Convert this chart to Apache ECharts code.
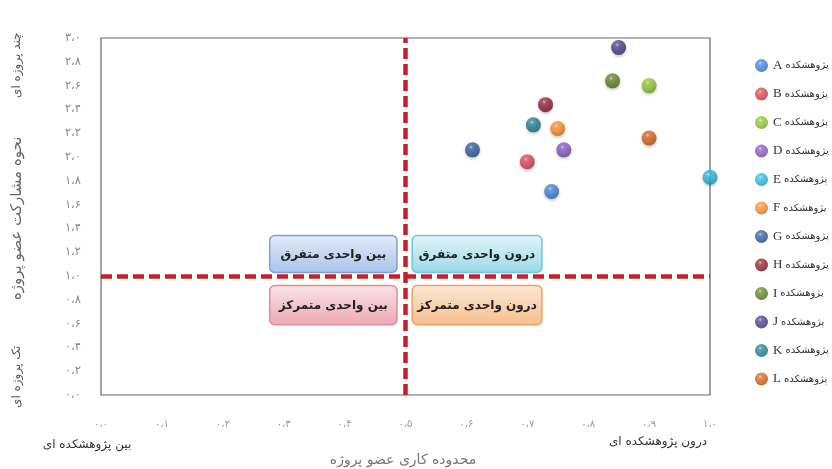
<!DOCTYPE html>
<html><head><meta charset="utf-8">
<script src="https://cdn.jsdelivr.net/npm/echarts@6/dist/echarts.min.js"></script>
<style>html,body{margin:0;padding:0;background:#fff}#c{width:832px;height:469px}</style>
</head><body><div id="c"></div>
<script>
// ---- data ----
const units = ['A','B','C','D','E','F','G','H','I','J','K','L'];
const scopeX = [0.74,0.70,0.90,0.76,1.00,0.75,0.61,0.73,0.84,0.85,0.71,0.90];
const projectsY = [1.71,1.96,2.60,2.06,1.83,2.24,2.06,2.44,2.64,2.92,2.27,2.16];
const xTicks = [0,0.1,0.2,0.3,0.4,0.5,0.6,0.7,0.8,0.9,1.0];
const yTicks = [0,0.2,0.4,0.6,0.8,1.0,1.2,1.4,1.6,1.8,2.0,2.2,2.4,2.6,2.8,3.0];
const quadrantNames = ['بین واحدی متفرق','درون واحدی متفرق','بین واحدی متمرکز','درون واحدی متمرکز'];
const quadrantX0 = [0.277,0.511,0.277,0.511];
const quadrantX1 = [0.486,0.724,0.486,0.724];
const quadrantY0 = [1.03,1.03,0.59,0.59];
const quadrantY1 = [1.34,1.34,0.92,0.92];
const splitX = 0.5, splitY = 1.0;

// ---- styles ----
const colors = ['#3a7fd4','#d8404a','#8cc22e','#8552c2','#20b6d4','#f58a20','#2a569c','#8e1a2a','#5c8020','#463880','#1a7c8c','#d65c12'];
const boxFill = [['#e4ecf9','#a9c3ea'],['#e2f5fa','#9bd9ea'],['#fae4e7','#eca9b1'],['#fde9d6','#f5bf8c']];
const boxStroke = ['#7ea0d8','#6fc6dc','#dc8d97','#eaa160'];
const AR = '"DejaVu Sans","Noto Sans",sans-serif';
const SERIF = '"Liberation Serif","DejaVu Serif","DejaVu Sans",serif';

const fa = d => String(d).replace(/[0-9]/g, c => '۰۱۲۳۴۵۶۷۸۹'[+c]);
const fmt = v => fa(v.toFixed(1)).replace('.', '،');

function mix(hex, target, t) {
  const a = parseInt(hex.slice(1), 16);
  const r = (a >> 16) & 255, g = (a >> 8) & 255, b = a & 255;
  const m = x => Math.round(x + (target - x) * t);
  return 'rgb(' + m(r) + ',' + m(g) + ',' + m(b) + ')';
}
const sphere = c => new echarts.graphic.RadialGradient(0.4, 0.32, 0.7, [
  {offset: 0, color: mix(c, 255, 0.7)},
  {offset: 0.18, color: mix(c, 255, 0.15)},
  {offset: 0.55, color: c},
  {offset: 1, color: mix(c, 0, 0.22)}
]);

const chart = echarts.init(document.getElementById('c'));

const scatterSeries = units.map((u, i) => ({
  name: u,
  type: 'scatter',
  symbol: 'circle',
  symbolSize: 15,
  z: 5,
  itemStyle: {
    color: sphere(colors[i]),
    shadowBlur: 3, shadowColor: 'rgba(0,0,0,0.3)', shadowOffsetY: 1.5
  },
  data: [[scopeX[i], projectsY[i]]]
}));

const boxData = quadrantNames.map((n, i) => [quadrantX0[i], quadrantY0[i], quadrantX1[i], quadrantY1[i], i]);

const option = {
  animation: false,
  backgroundColor: '#fff',
  grid: {left: 101, right: 122, top: 38, bottom: 74, show: true, borderColor: '#666', borderWidth: 1.2, backgroundColor: 'transparent'},
  xAxis: {
    type: 'value', min: 0, max: 1.0, interval: 0.1,
    axisLine: {show: false}, axisTick: {show: false}, splitLine: {show: false},
    axisLabel: {margin: 24, color: '#9a9a9a', fontSize: 10, fontFamily: AR, formatter: v => fmt(v)}
  },
  yAxis: {
    type: 'value', min: 0, max: 3.0, interval: 0.2,
    axisLine: {show: false}, axisTick: {show: false}, splitLine: {show: false},
    axisLabel: {margin: 20, color: '#888', fontSize: 11.5, fontFamily: AR, formatter: v => fmt(v)}
  },
  legend: {
    orient: 'vertical', left: 750, top: 54,
    itemWidth: 13, itemHeight: 13, itemGap: 15.5,
    icon: 'circle',
    data: units,
    formatter: n => '{l|' + n + '} {p|پژوهشکده}',
    textStyle: {fontFamily: SERIF, fontSize: 12, color: '#333',
      rich: {l: {fontFamily: SERIF, fontSize: 13, color: '#333'}, p: {fontFamily: AR, fontSize: 10, color: '#333'}}}
  },
  graphic: [
    {type: 'text', rotation: Math.PI / 2, x: 10, y: 300, style: {text: 'نحوه مشارکت عضو پروژه', font: '15px ' + AR, fill: '#666'}},
    {type: 'text', rotation: Math.PI / 2, x: 11, y: 98, style: {text: 'چند پروژه ای', font: '12px ' + AR, fill: '#555'}},
    {type: 'text', rotation: Math.PI / 2, x: 11, y: 408, style: {text: 'تک پروژه ای', font: '12px ' + AR, fill: '#555'}},
    {type: 'text', x: 87, y: 445, style: {text: 'بین پژوهشکده ای', font: '12px ' + AR, fill: '#333', align: 'center', verticalAlign: 'middle'}},
    {type: 'text', x: 658, y: 442, style: {text: 'درون پژوهشکده ای', font: '12px ' + AR, fill: '#333', align: 'center', verticalAlign: 'middle'}},
    {type: 'text', x: 403, y: 460, style: {text: 'محدوده کاری عضو پروژه', font: '14px ' + AR, fill: '#777', align: 'center', verticalAlign: 'middle'}}
  ],
  series: [
    {
      type: 'custom',
      silent: true,
      z: 3,
      data: boxData,
      renderItem: (params, api) => {
        const i = api.value(4);
        const p0 = api.coord([api.value(0), api.value(3)]);
        const p1 = api.coord([api.value(2), api.value(1)]);
        return {
          type: 'group',
          children: [
            {type: 'rect', shape: {x: p0[0], y: p0[1], width: p1[0] - p0[0], height: p1[1] - p0[1], r: 5},
             style: {fill: new echarts.graphic.LinearGradient(0, 0, 0, 1, [{offset: 0, color: boxFill[i][0]}, {offset: 1, color: boxFill[i][1]}]),
                     stroke: boxStroke[i], lineWidth: 1.5}},
            {type: 'text', style: {text: quadrantNames[i], x: (p0[0] + p1[0]) / 2, y: (p0[1] + p1[1]) / 2 + 1,
             align: 'center', verticalAlign: 'middle', font: 'bold 12px ' + AR, fill: '#222'}}
          ]
        };
      },
      markLine: {
        silent: true, symbol: 'none', z: 2,
        label: {show: false},
        lineStyle: {color: '#c8202a', width: 4.5, type: [11, 5]},
        data: [{xAxis: splitX}, {yAxis: splitY}]
      }
    },
    ...scatterSeries
  ]
};
chart.setOption(option);
</script></body></html>
